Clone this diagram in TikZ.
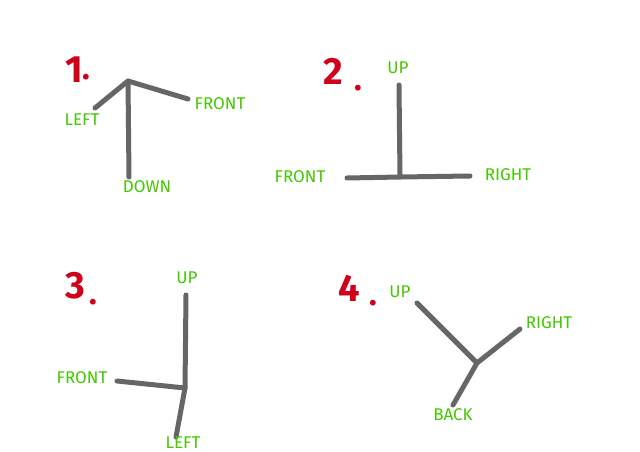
\documentclass[tikz,border=0pt]{standalone}
\usepackage{fontspec}
\setmainfont{Fira Sans}
\definecolor{lbl}{HTML}{44C800}
\definecolor{num}{HTML}{D0021B}
\definecolor{axis}{HTML}{666666}
\begin{document}
\begin{tikzpicture}[x=1pt,y=-1pt,
  lab/.style={text=lbl,font=\fontsize{17}{17}\selectfont,inner sep=0pt},
  numlab/.style={text=num,font=\fontsize{38}{38}\selectfont\bfseries,inner sep=0pt},
  dotlab/.style={text=num,font=\fontsize{32}{32}\selectfont\bfseries,inner sep=0pt,anchor=base},
  ax/.style={draw=axis,line width=5pt,line cap=round,line join=round}]
\useasboundingbox[fill=white] (0,0) rectangle (640,452);
% panel 1
\node[numlab] (n1) at (74,70) {1};
\node[dotlab] (d1) at (86,80) {.};
\coordinate (o1) at (128,81);
\coordinate (l1) at (95,108);
\coordinate (f1) at (188,99);
\coordinate (b1) at (129,177);
\draw[ax] (l1) -- (o1) -- (f1);
\draw[ax] (o1) -- (b1);
\node[lab] (tl1) at (82,120) {LEFT};
\node[lab] (tf1) at (220,104) {FRONT};
\node[lab] (td1) at (147,187) {DOWN};
% panel 2
\node[numlab] (n2) at (333,71) {2};
\node[dotlab] (d2) at (358,90) {.};
\coordinate (o2) at (400,177);
\coordinate (u2) at (399,85);
\coordinate (f2) at (347,178);
\coordinate (r2) at (470,176);
\draw[ax] (f2) -- (o2) -- (r2);
\draw[ax] (o2) -- (u2);
\node[lab] (tu2) at (398,68) {UP};
\node[lab] (tf2) at (300,177) {FRONT};
\node[lab] (tr2) at (508,175) {RIGHT};
% panel 3
\node[numlab] (n3) at (75,286) {3};
\node[dotlab] (d3) at (93,304) {.};
\coordinate (o3) at (185,388);
\coordinate (u3) at (186,295);
\coordinate (f3) at (117,381);
\coordinate (l3) at (176,437);
\draw[ax] (f3) -- (o3) -- (u3);
\draw[ax] (o3) -- (l3);
\node[lab] (tu3) at (187,278) {UP};
\node[lab] (tf3) at (82,378) {FRONT};
\node[lab] (tl3) at (183,443) {LEFT};
% panel 4
\node[numlab] (n4) at (349,288) {4};
\node[dotlab] (d4) at (373,305) {.};
\coordinate (o4) at (477,363);
\coordinate (u4) at (417,303);
\coordinate (r4) at (520,329);
\coordinate (b4) at (453,405);
\draw[ax] (u4) -- (o4) -- (r4);
\draw[ax] (o4) -- (b4);
\node[lab] (tu4) at (400,292) {UP};
\node[lab] (tr4) at (549,323) {RIGHT};
\node[lab] (tb4) at (453,415) {BACK};
\end{tikzpicture}
\end{document}
